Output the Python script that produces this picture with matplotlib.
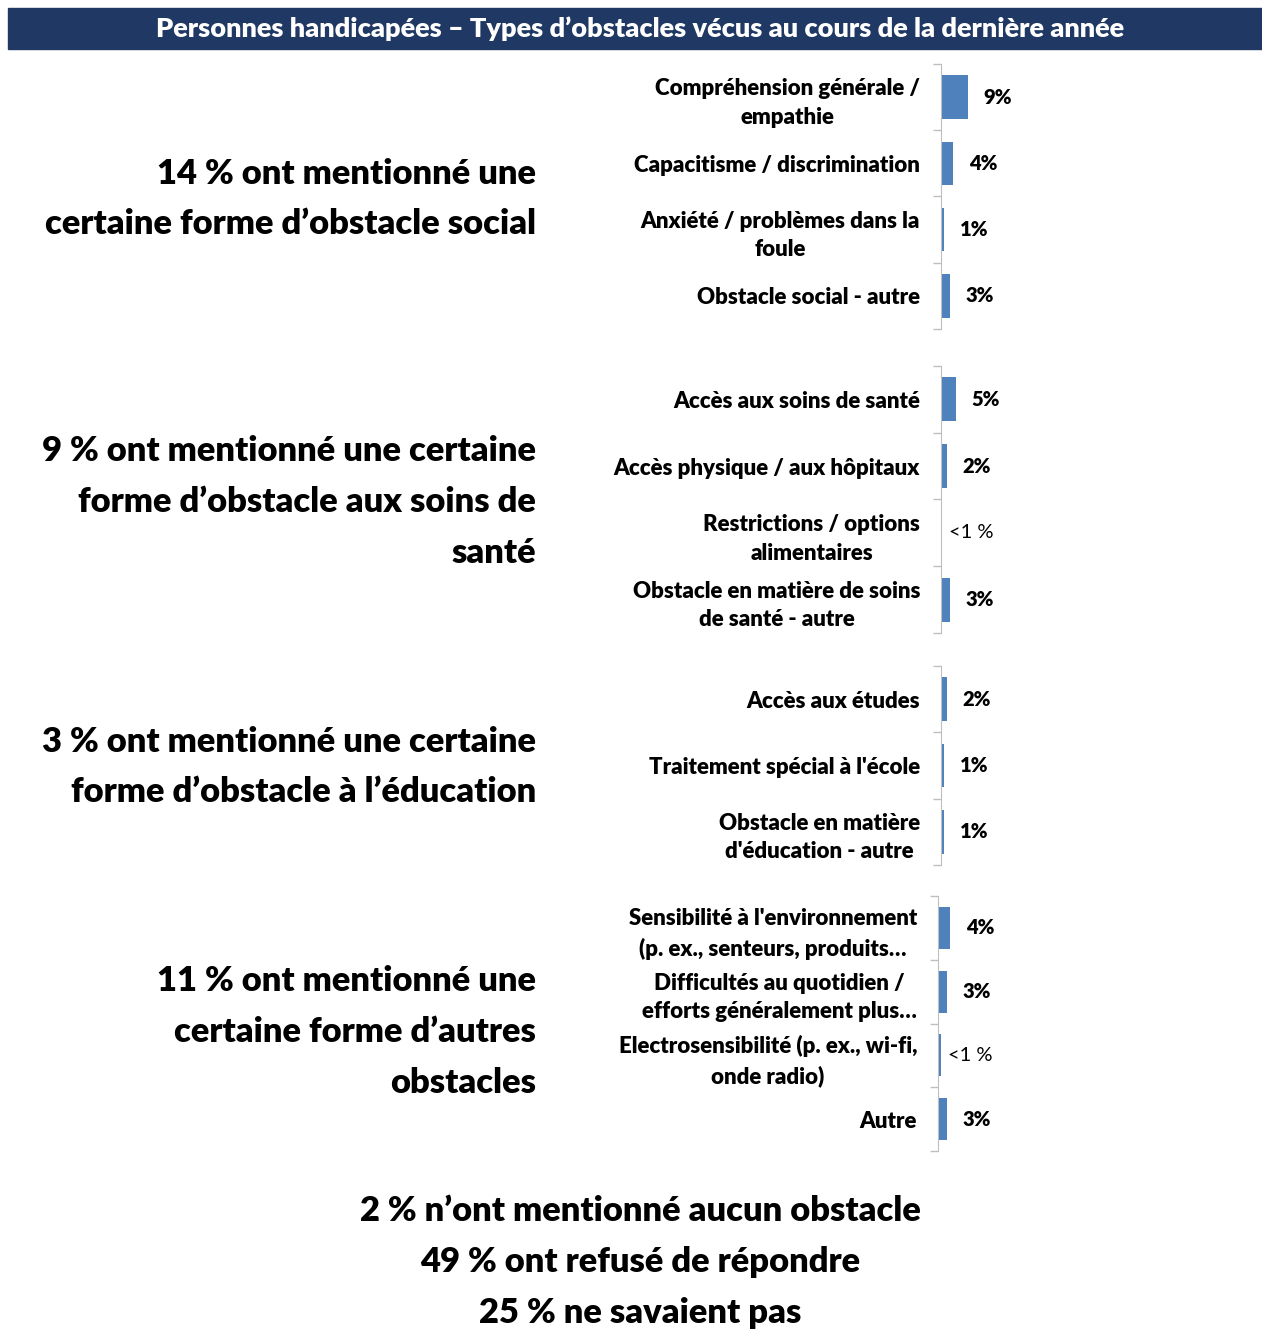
import matplotlib
matplotlib.use("Agg")
import matplotlib.pyplot as plt

plt.rcParams['font.family'] = ['Lato', 'DejaVu Sans']

title = "Personnes handicapées – Types d’obstacles vécus au cours de la dernière année"

social_labels = ["Compréhension générale /\nempathie", "Capacitisme / discrimination",
                 "Anxiété / problèmes dans la\nfoule", "Obstacle social - autre"]
social_values = [9, 4, 1, 3]
social_text = ["9%", "4%", "1%", "3%"]

health_labels = ["Accès aux soins de santé", "Accès physique / aux hôpitaux",
                 "Restrictions / options\nalimentaires", "Obstacle en matière de soins\nde santé - autre"]
health_values = [5, 2, 0.2, 3]
health_text = ["5%", "2%", "<1 %", "3%"]

edu_labels = ["Accès aux études", "Traitement spécial à l'école",
              "Obstacle en matière\nd'éducation - autre"]
edu_values = [2, 1, 1]
edu_text = ["2%", "1%", "1%"]

other_labels = ["Sensibilité à l'environnement\n(p. ex., senteurs, produits…",
                "Difficultés au quotidien /\nefforts généralement plus…",
                "Electrosensibilité (p. ex., wi-fi,\nonde radio)", "Autre"]
other_values = [4, 3, 0.9, 3]
other_text = ["4%", "3%", "<1 %", "3%"]

summaries = [
    "14 % ont mentionné une\ncertaine forme d’obstacle social",
    "9 % ont mentionné une certaine\nforme d’obstacle aux soins de\nsanté",
    "3 % ont mentionné une certaine\nforme d’obstacle à l’éducation",
    "11 % ont mentionné une\ncertaine forme d’autres\nobstacles",
]
footer = "2 % n’ont mentionné aucun obstacle\n49 % ont refusé de répondre\n25 % ne savaient pas"

W, H = 1262, 1332
fig = plt.figure(figsize=(W / 100, H / 100), dpi=100)
BOLD = 'heavy'


def rect(x0, y0, x1, y1):
    return [x0 / W, 1 - y1 / H, (x1 - x0) / W, (y1 - y0) / H]


# title bar
fig.patches.append(plt.Rectangle((8 / W, 1 - 49 / H), (W - 8) / W, 41 / H,
                                 transform=fig.transFigure, color='#1F3864'))
fig.text(640 / W, 1 - 29 / H, title, color='white', fontsize=19.5, fontweight=BOLD,
         ha='center', va='center')

groups = [
    (social_labels, social_values, social_text, 941, 64, 329, 199),
    (health_labels, health_values, health_text, 941, 366, 633, 502),
    (edu_labels, edu_values, edu_text, 941, 666, 865, 767),
    (other_labels, other_values, other_text, 938, 896, 1151, 1032),
]

for (labels, values, texts, x0, y0, y1, ty), summary in zip(groups, summaries):
    ax = fig.add_axes(rect(x0, y0, x0 + 270, y1))
    n = len(labels)
    pos = list(range(n))
    ax.barh(pos, values, height=0.66, color='#4F81BD')
    ax.set_xlim(0, 90)
    ax.set_ylim(n - 0.5, -0.5)
    ax.set_yticks(pos)
    ax.set_yticklabels(labels, fontsize=16, fontweight=BOLD, multialignment='center',
                       linespacing=1.45)
    ax.set_yticks([i - 0.5 for i in range(n + 1)], minor=True)
    ax.tick_params(axis='y', which='major', length=0, pad=15)
    ax.tick_params(axis='y', which='minor', length=6, color='#BFBFBF', width=1)
    ax.set_xticks([])
    for s in ['top', 'right', 'bottom']:
        ax.spines[s].set_visible(False)
    ax.spines['left'].set_color('#BFBFBF')
    for i, (v, t) in enumerate(zip(values, texts)):
        ax.annotate(t, (v, i), xytext=(30, 0), textcoords='offset pixels',
                    ha='center', va='center', fontsize=14.5,
                    fontweight='normal' if t.startswith('<') else BOLD)
    fig.text(536 / W, 1 - ty / H, summary, ha='right', va='center', fontsize=24.8,
             fontweight=BOLD, linespacing=1.72)

fig.text(640 / W, 1 - 1262 / H, footer, ha='center', va='center', fontsize=24.8,
         fontweight=BOLD, linespacing=1.72)

fig.savefig("out.png", dpi=100)
